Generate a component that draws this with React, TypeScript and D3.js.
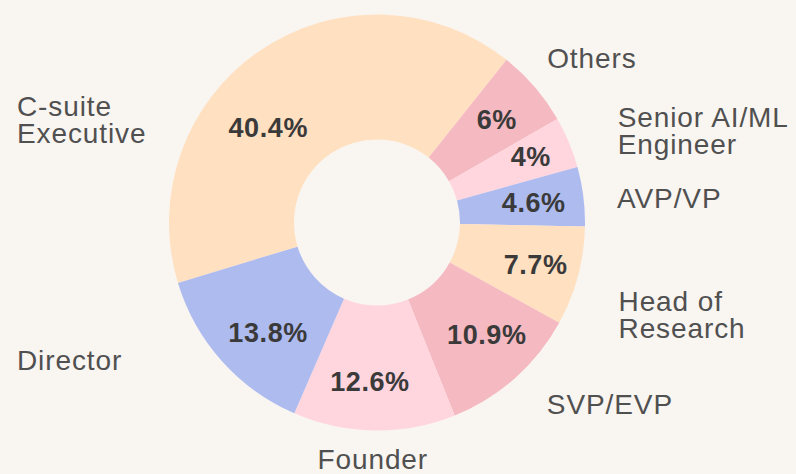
import React from "react";
import * as d3 from "d3";

const categories = [
  "C-suite Executive",
  "Others",
  "Senior AI/ML Engineer",
  "AVP/VP",
  "Head of Research",
  "SVP/EVP",
  "Founder",
  "Director",
];
const values = [40.4, 6, 4, 4.6, 7.7, 10.9, 12.6, 13.8];
const valueLabels = ["40.4%", "6%", "4%", "4.6%", "7.7%", "10.9%", "12.6%", "13.8%"];
const nameLines = [
  ["C-suite", "Executive"],
  ["Others"],
  ["Senior AI/ML", "Engineer"],
  ["AVP/VP"],
  ["Head of", "Research"],
  ["SVP/EVP"],
  ["Founder"],
  ["Director"],
];
const palette = ["#FFE0C0", "#F5B9C1", "#FFD5DE", "#AEBBEF"];

const W = 796;
const H = 474;
const cx = 377;
const cy = 222.5;
const rOuter = 208;
const rInner = 83;
const rValue = 158;
const rName = 250;
const leftMargin = 17;
const nameSize = 28;
const lineH = 27;
const startDeg = -106.9;

// layout nudges for label placement (dx, dy) relative to polar anchor
const nameNudge: Record<string, [number, number]> = {
  "C-suite Executive": [0, 104],
  Others: [-19.5, -1.5],
  "Senior AI/ML Engineer": [10, 5],
  "AVP/VP": [-8, 7],
  "Head of Research": [0, 28],
  "SVP/EVP": [4, -5],
  Founder: [-1, -13.5],
  Director: [0, -29],
};
const valueNudge: Record<string, [number, number]> = {
  "C-suite Executive": [-20, 36],
  "Senior AI/ML Engineer": [8, -5],
  "Head of Research": [6, 1],
  "SVP/EVP": [5, -6],
  Founder: [-5, 1],
  Director: [9, 5],
};

export default function App() {
  const start = (startDeg * Math.PI) / 180;
  const pie = d3
    .pie<number>()
    .sort(null)
    .value((d) => d)
    .startAngle(start)
    .endAngle(start + 2 * Math.PI);
  const arcs = pie(values);
  const arc = d3.arc<d3.PieArcDatum<number>>().innerRadius(rInner).outerRadius(rOuter);
  const color = d3.scaleOrdinal<number, string>().domain(d3.range(4)).range(palette);

  const polar = (a: number, r: number): [number, number] => [
    cx + r * Math.sin(a),
    cy - r * Math.cos(a),
  ];

  return (
    <svg
      width={W}
      height={H}
      style={{ position: "absolute", left: 0, top: 0, background: "#F9F5F1" }}
      fontFamily="'Liberation Sans', Arial, Helvetica, sans-serif"
    >
      <rect x={0} y={0} width={W} height={H} fill="#F9F5F1" />
      <g transform={`translate(${cx},${cy})`}>
        {arcs.map((a, i) => (
          <path key={categories[i]} d={arc(a) || ""} fill={color(i % 4)} />
        ))}
      </g>
      {arcs.map((a, i) => {
        const mid = (a.startAngle + a.endAngle) / 2;
        const [bx, by] = polar(mid, rValue);
        const n = valueNudge[categories[i]] || [0, 0];
        return (
          <text
            key={"v" + i}
            x={bx + n[0]}
            y={by + n[1]}
            dy="0.35em"
            textAnchor="middle"
            fontWeight="bold"
            fontSize={27}
            letterSpacing={0.6}
            fill="#3A3A3A"
          >
            {valueLabels[i]}
          </text>
        );
      })}
      {arcs.map((a, i) => {
        const mid = (a.startAngle + a.endAngle) / 2;
        const [bx, by] = polar(mid, rName);
        const n = nameNudge[categories[i]] || [0, 0];
        const s = Math.sin(mid);
        let anchor: "start" | "middle" | "end" = "start";
        let x = bx + n[0];
        if (Math.abs(s) < 0.2) anchor = "middle";
        else if (s < 0) x = leftMargin;
        const yc = by + n[1];
        const lines = nameLines[i];
        const first = yc - ((lines.length - 1) * lineH) / 2 + nameSize * 0.35;
        return (
          <text
            key={"n" + i}
            x={x}
            y={first}
            textAnchor={anchor}
            fontSize={nameSize}
            letterSpacing={0.9}
            fill="#505050"
          >
            {lines.map((l, j) => (
              <tspan key={j} x={x} dy={j === 0 ? 0 : lineH}>
                {l}
              </tspan>
            ))}
          </text>
        );
      })}
    </svg>
  );
}
